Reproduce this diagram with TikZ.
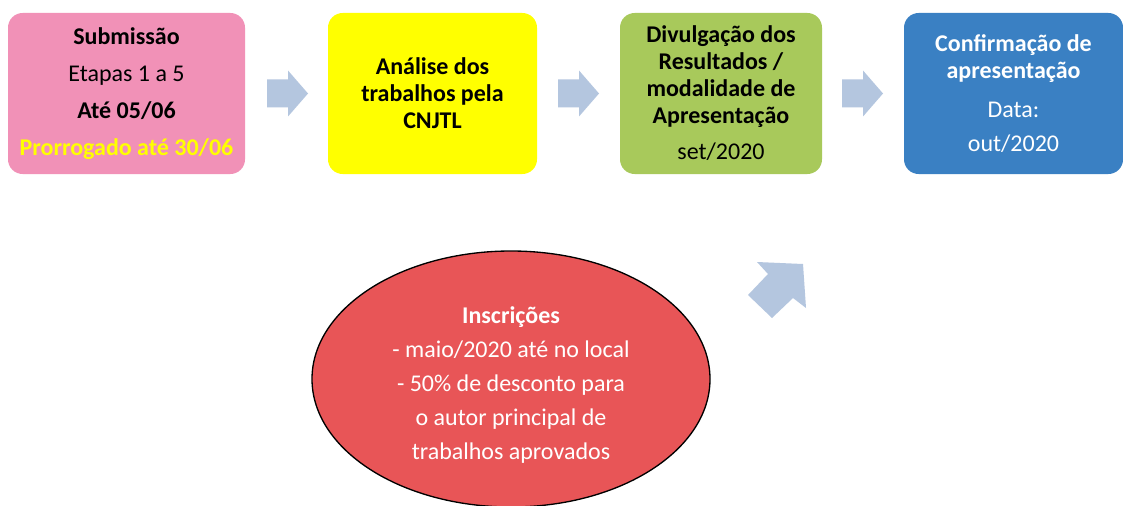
\documentclass[tikz,border=0pt]{standalone}
\usepackage{fontspec}
\setmainfont{Carlito}
\usetikzlibrary{shapes.geometric}
\definecolor{pinkbox}{HTML}{F191B7}
\definecolor{yellowbox}{HTML}{FFFF00}
\definecolor{greenbox}{HTML}{A8C95B}
\definecolor{bluebox}{HTML}{3A80C3}
\definecolor{arrowfill}{HTML}{B4C6DF}
\definecolor{redell}{HTML}{E85557}
\newcommand\rightblockarrow[1]{\fill[arrowfill,shift={(#1)}] (0,-14) -- (21,-14) -- (21,-23) -- (41,0) -- (21,23) -- (21,14) -- (0,14) -- cycle;}
\tikzset{
  stagebox/.style={rounded corners=11pt, align=center, inner sep=0pt,
    minimum height=120.75pt, font=\fontsize{18}{20.25}\selectfont},
}
\begin{document}
\begin{tikzpicture}[x=0.75pt,y=-0.75pt]
\useasboundingbox[fill=white] (0,0) rectangle (1123,506);
\node[stagebox, fill=pinkbox, minimum width=177.75pt] (sub) at (126.5,93.5)
  {\textbf{Submissão}\\[7.5pt]Etapas 1 a 5\\[7.5pt]\textbf{Até 05/06}\\[7.5pt]\textcolor{yellowbox}{\textbf{Prorrogado até 30/06}}};
\node[stagebox, fill=yellowbox, minimum width=156.75pt] (ana) at (432.5,93.5)
  {\textbf{Análise dos}\\\textbf{trabalhos pela}\\\textbf{CNJTL}};
\node[stagebox, fill=greenbox, minimum width=151.5pt] (div) at (721,93.5)
  {\textbf{Divulgação dos}\\\textbf{Resultados /}\\\textbf{modalidade de}\\\textbf{Apresentação}\\[6.75pt]set/2020};
\node[stagebox, fill=bluebox, text=white, minimum width=164.25pt] (conf) at (1013.5,93.5)
  {\textbf{Confirmação de}\\\textbf{apresentação}\\[9pt]Data:\\[5.25pt]out/2020};
\rightblockarrow{267,93.5}
\rightblockarrow{558,93.5}
\rightblockarrow{842,93.5}
\fill[arrowfill] (748,295) -- (768,274) -- (757,262) -- (803,264) -- (806,308) -- (793,298) -- (772,318) -- cycle;
\node[ellipse, draw=black, line width=1pt, fill=redell,
  minimum width=298.5pt, minimum height=192pt, inner sep=0pt] (insc) at (511,379) {};
\node[text=white, align=center, inner sep=0pt,
  font=\fontsize{18}{25.5}\selectfont] (insctext) at ([yshift=-4.5pt]insc.center)
  {\textbf{Inscrições}\\- maio/2020 até no local\\- 50\% de desconto para\\o autor principal de\\trabalhos aprovados};
\end{tikzpicture}
\end{document}
